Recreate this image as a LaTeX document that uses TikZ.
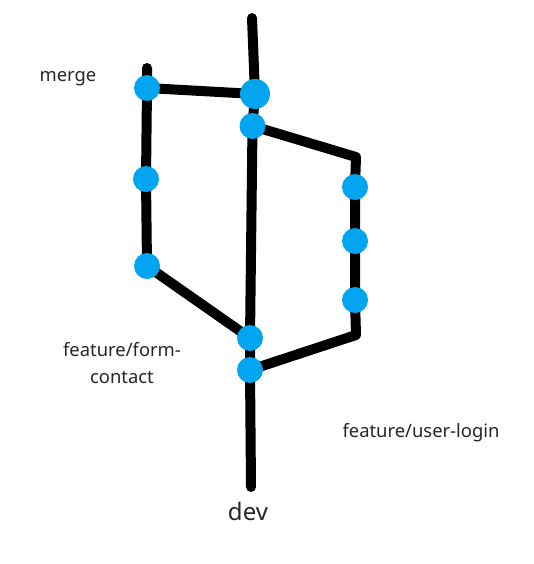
\documentclass[tikz,border=0pt]{standalone}
\usepackage{fontspec}
\setmainfont{Noto Sans}
\usetikzlibrary{backgrounds}

\definecolor{commitblue}{RGB}{0,164,239}

\begin{document}
\begin{tikzpicture}[x=0.75pt, y=-0.75pt,
		commit/.style = {circle, fill=commitblue, inner sep=0pt, minimum size=19.5pt},
		bigcommit/.style = {commit, minimum size=22.5pt},
		branch/.style = {line width=7.5pt, line cap=round, line join=round},
		label/.style = {font=\fontsize{13.8}{20.3}\selectfont, align=center, text=black!85}]
		\useasboundingbox (0,0) rectangle (534,564);

		\coordinate (devtop) at (252,18);
		\coordinate (devend) at (251,487);
		\coordinate (formtop) at (147,68);
		\coordinate (logintop) at (356,157);
		\coordinate (loginend) at (356,335);

		% dev
		\node [bigcommit] (dev1) at (255,94) {};
		\node [commit] (dev2) at (252.5,126) {};
		\node [commit] (dev3) at (250,338) {};
		\node [commit] (dev4) at (250,370) {};

		% feature/form-contact
		\node [commit] (form1) at (147,88) {};
		\node [commit] (form2) at (146,179) {};
		\node [commit] (form3) at (147,266) {};

		% feature/user-login
		\node [commit] (login1) at (355,187) {};
		\node [commit] (login2) at (355,241) {};
		\node [commit] (login3) at (355,300) {};

		\begin{pgfonlayer}{background}
			\draw [branch] (devtop) -- (dev1.center) -- (dev2.center) -- (dev3.center) -- (dev4.center) -- (devend);
			\draw [branch] (formtop) -- (form1.center) -- (form2.center) -- (form3.center) -- (dev3.center);
			\draw [branch] (form1.center) -- (dev1.center);
			\draw [branch] (dev2.center) -- (logintop) -- (login1.center) -- (login2.center) -- (login3.center) -- (loginend) -- (dev4.center);
		\end{pgfonlayer}

		\node [label] (merge) at (68,79) {merge};
		\node [label] (formlabel) at (122,363) {feature/form-\\contact};
		\node [label] (loginlabel) at (421,433) {feature/user-login};
		\node [label, font=\fontsize{18}{22}\selectfont] (devlabel) at (248,511) {dev};
	\end{tikzpicture}
\end{document}
